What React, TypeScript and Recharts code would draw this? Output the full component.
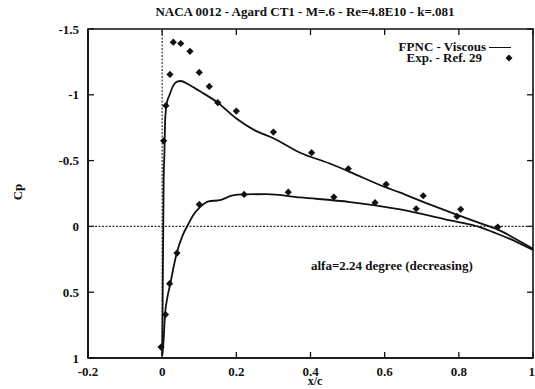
import React from 'react'
import {
  ComposedChart,
  Line,
  Scatter,
  XAxis,
  YAxis,
  ReferenceLine,
  ReferenceArea,
} from 'recharts'

// FPNC viscous computation, upper surface
const upperX = [0, 0.001, 0.002, 0.003, 0.004, 0.006, 0.008, 0.012, 0.02, 0.03, 0.04, 0.05, 0.07, 0.1, 0.15, 0.2, 0.25, 0.3, 0.372, 0.45, 0.507, 0.6, 0.642, 0.7, 0.776, 0.857, 0.91, 0.95, 1]
const upperCp = [0.98, 0.7, 0.3, 0, -0.35, -0.55, -0.8, -0.93, -1.0, -1.07, -1.1, -1.105, -1.08, -1.03, -0.94, -0.82, -0.73, -0.67, -0.56, -0.48, -0.413, -0.3, -0.256, -0.19, -0.109, -0.025, 0.03, 0.09, 0.17]

// FPNC viscous computation, lower surface
const lowerX = [0, 0.003, 0.008, 0.014, 0.022, 0.03, 0.04, 0.055, 0.071, 0.085, 0.1, 0.125, 0.156, 0.19, 0.22, 0.28, 0.372, 0.507, 0.642, 0.776, 0.857, 0.892, 0.95, 1]
const lowerCp = [0.98, 0.9, 0.66, 0.54, 0.435, 0.32, 0.195, 0.07, -0.02, -0.09, -0.14, -0.19, -0.2, -0.235, -0.243, -0.245, -0.22, -0.185, -0.129, -0.046, 0.005, 0.043, 0.11, 0.18]

// Experiment, Ref. 29
const expX = [0.004, 0.01, 0.021, 0.03, 0.05, 0.075, 0.1, 0.127, 0.15, 0.2, 0.3, 0.403, 0.502, 0.604, 0.704, 0.805, 0.905,
  -0.003, 0.009, 0.02, 0.04, 0.1, 0.221, 0.34, 0.463, 0.574, 0.685, 0.795]
const expCp = [-0.65, -0.917, -1.155, -1.4, -1.39, -1.33, -1.17, -1.064, -0.94, -0.876, -0.717, -0.56, -0.438, -0.32, -0.233, -0.13, 0.005,
  0.917, 0.67, 0.435, 0.203, -0.167, -0.243, -0.26, -0.223, -0.18, -0.134, -0.076]

const xTicks = [-0.2, 0, 0.2, 0.4, 0.6, 0.8, 1]
const yTicks = [-1.5, -1, -0.5, 0, 0.5, 1]

const zip = (xs: number[], ys: number[]) => xs.map((x, i) => ({ x, y: ys[i] }))
const upper = zip(upperX, upperCp)
const lower = zip(lowerX, lowerCp)
const exp = zip(expX, expCp)

const X0 = xTicks[0]
const X1 = xTicks[xTicks.length - 1]
const Y0 = yTicks[0]
const Y1 = yTicks[yTicks.length - 1]
// inward tick length in data units (about 6px on the plot)
const TX = 0.016
const TY = 0.046

const FONT = '"Liberation Serif", "DejaVu Serif", serif'
const INK = '#111'
const tickStyle = { fontSize: 13, fontWeight: 700, fontFamily: FONT, fill: INK }
const axisLine = { stroke: INK, strokeWidth: 1.6 }

const Diamond = (props: any) => {
  const { cx, cy } = props
  const r = 3.6
  return <path d={`M${cx},${cy - r}L${cx + r},${cy}L${cx},${cy + r}L${cx - r},${cy}Z`} fill={INK} />
}

const ids = { xAxisId: 'b', yAxisId: 'l' }
const txt = { position: 'absolute' as const, fontWeight: 700, color: INK, whiteSpace: 'nowrap' as const, fontFamily: FONT }

export default function App() {
  return (
    <div style={{ position: 'relative', width: 535, height: 389 }}>
      <style>{'html,body{margin:0;padding:0}'}</style>
      <ComposedChart width={535} height={389} margin={{ top: 29, right: 2, bottom: 0, left: 0 }}>
        <XAxis
          xAxisId="b"
          type="number"
          dataKey="x"
          domain={[X0, X1]}
          ticks={xTicks}
          height={31}
          axisLine={axisLine}
          tickLine={false}
          tickSize={0}
          tickMargin={9}
          tick={tickStyle}
        />
        <YAxis
          yAxisId="l"
          type="number"
          dataKey="y"
          domain={[Y0, Y1]}
          reversed
          ticks={yTicks}
          width={88}
          axisLine={axisLine}
          tickLine={false}
          tickSize={0}
          tickMargin={9}
          tick={tickStyle}
        />
        {/* plot frame */}
        <ReferenceArea {...ids} x1={X0} x2={X1} y1={Y0} y2={Y1} fill="none" fillOpacity={0} stroke={INK} strokeWidth={1.6} />
        {/* inward tick marks on all four sides */}
        {xTicks.map(t => (
          <ReferenceLine key={`xb${t}`} {...ids} segment={[{ x: t, y: Y1 }, { x: t, y: Y1 - TY }]} stroke={INK} strokeWidth={1.3} />
        ))}
        {xTicks.map(t => (
          <ReferenceLine key={`xt${t}`} {...ids} segment={[{ x: t, y: Y0 }, { x: t, y: Y0 + TY }]} stroke={INK} strokeWidth={1.3} />
        ))}
        {yTicks.map(t => (
          <ReferenceLine key={`yl${t}`} {...ids} segment={[{ x: X0, y: t }, { x: X0 + TX, y: t }]} stroke={INK} strokeWidth={1.3} />
        ))}
        {yTicks.map(t => (
          <ReferenceLine key={`yr${t}`} {...ids} segment={[{ x: X1, y: t }, { x: X1 - TX, y: t }]} stroke={INK} strokeWidth={1.3} />
        ))}
        <ReferenceLine {...ids} x={0} stroke="#333" strokeDasharray="2 1.5" strokeWidth={1.2} />
        <ReferenceLine {...ids} y={0} stroke="#333" strokeDasharray="2 1.5" strokeWidth={1.2} />
        <Line {...ids} data={upper} dataKey="y" type="monotone" stroke={INK} strokeWidth={1.8} dot={false} isAnimationActive={false} />
        <Line {...ids} data={lower} dataKey="y" type="monotone" stroke={INK} strokeWidth={1.8} dot={false} isAnimationActive={false} />
        <Scatter {...ids} data={exp} dataKey="y" shape={<Diamond />} isAnimationActive={false} />
      </ComposedChart>

      <div style={{ ...txt, left: 70, width: 470, top: 4, textAlign: 'center', fontSize: 13 }}>
        NACA 0012 - Agard CT1 - M=.6 - Re=4.8E10 - k=.081
      </div>
      <div style={{ ...txt, right: 535 - 486, top: 41, textAlign: 'right', fontSize: 13, lineHeight: '11px' }}>
        <div>FPNC - Viscous</div>
        <div style={{ marginRight: 4 }}>Exp. - Ref. 29</div>
      </div>
      <div style={{ position: 'absolute', left: 489, top: 47, width: 22, height: 0, borderTop: `1.5px solid ${INK}` }} />
      <svg style={{ position: 'absolute', left: 504, top: 53 }} width={10} height={10}>
        <path d="M5,1.5L8.5,5L5,8.5L1.5,5Z" fill={INK} />
      </svg>
      <div style={{ ...txt, left: 311, top: 258, fontSize: 13 }}>
        alfa=2.24 degree (decreasing)
      </div>
      <div style={{ ...txt, left: 265, width: 100, top: 375, textAlign: 'center', fontSize: 12, lineHeight: '12px' }}>
        x/c
      </div>
      <div style={{ ...txt, left: 9, top: 183, width: 18, height: 18, transform: 'rotate(-90deg)', fontSize: 13, textAlign: 'center', lineHeight: '18px' }}>
        Cp
      </div>
    </div>
  )
}
